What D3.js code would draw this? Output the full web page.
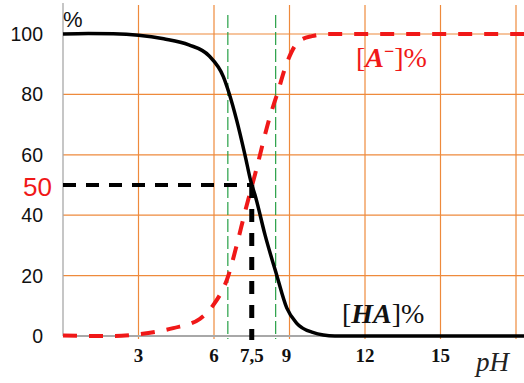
<!DOCTYPE html>
<html>
<head>
<meta charset="utf-8">
<script src="https://cdn.jsdelivr.net/npm/d3@7"></script>
<style>
  body { margin: 0; background: #fff; }
  svg { display: block; }
</style>
</head>
<body>
<div id="chart"></div>
<script>
// values
const yTicks = [0, 20, 40, 60, 80, 100];
const gridPH = [3, 6, 9, 12, 15, 18];
const xTickValues = [3, 6, 7.5, 9, 12, 15];
const xTickLabels = ["3", "6", "7,5", "9", "12", "15"];
const pKa = 7.5;
const halfValue = 50;
const zoneLimits = [6.55, 8.45];

const haPH = [0, 1, 2, 3, 4, 5, 5.8, 6.37, 6.6, 6.9, 7.23, 7.47, 7.63, 8.03, 8.49, 8.89, 9.28, 9.89, 10.8, 12, 15, 18.4];
const haValue = [100, 100.2, 100.1, 99.6, 98.4, 96.4, 92.8, 85.9, 80.4, 71.5, 60, 51, 46.7, 33.4, 20.2, 9.3, 4.3, 1.3, 0, 0, 0, 0];

const aPH = [0, 1, 2, 3, 4.38, 5.44, 5.97, 6.57, 6.9, 7.23, 7.5, 7.63, 8.22, 8.52, 8.89, 9.36, 9.89, 10.56, 12, 15, 18.4];
const aValue = [0.2, 0, 0, 0.6, 2.6, 5.7, 10.2, 20, 30, 41, 49.5, 53.5, 72.6, 80.4, 90.3, 97.5, 99.3, 100, 100, 100, 100];

const width = 524, height = 383;
const orange = "#ee8a3c";
const red = "#f01818";

const x = d3.scaleLinear().domain([0, 18]).range([63, 516]);
const y = d3.scaleLinear().domain([0, 100]).range([336, 34]);

const svg = d3.select("#chart").append("svg")
    .attr("width", width)
    .attr("height", height);

// orange grid
svg.append("g").selectAll("line")
    .data(yTicks.filter(d => d > 0))
    .join("line")
    .attr("x1", x(0)).attr("x2", width)
    .attr("y1", d => y(d)).attr("y2", d => y(d))
    .attr("stroke", orange).attr("stroke-width", 1.2);

svg.append("g").selectAll("line")
    .data(gridPH)
    .join("line")
    .attr("x1", d => x(d)).attr("x2", d => x(d))
    .attr("y1", 5).attr("y2", y(0) + 3)
    .attr("stroke", orange).attr("stroke-width", 1.2);

// green dashed limits
svg.append("g").selectAll("line")
    .data(zoneLimits)
    .join("line")
    .attr("x1", d => x(d)).attr("x2", d => x(d))
    .attr("y1", 15).attr("y2", y(0) + 3)
    .attr("stroke", "#27a046").attr("stroke-width", 1.2)
    .attr("stroke-dasharray", "13,4");

// grey axes
svg.append("line")
    .attr("x1", x(0)).attr("x2", x(0))
    .attr("y1", 3).attr("y2", y(0))
    .attr("stroke", "#a8a8a8").attr("stroke-width", 1.3);
svg.append("line")
    .attr("x1", x(0)).attr("x2", width)
    .attr("y1", y(0)).attr("y2", y(0))
    .attr("stroke", "#a8a8a8").attr("stroke-width", 2);

const line = d3.line()
    .x(d => x(d[0]))
    .y(d => y(d[1]))
    .curve(d3.curveMonotoneX);

// [A-] red dashed
svg.append("path")
    .datum(d3.zip(aPH, aValue))
    .attr("d", line)
    .attr("fill", "none")
    .attr("stroke", red).attr("stroke-width", 4)
    .attr("stroke-dasharray", "14,12");

// [HA] black
svg.append("path")
    .datum(d3.zip(haPH, haValue))
    .attr("d", line)
    .attr("fill", "none")
    .attr("stroke", "#000").attr("stroke-width", 3.5);

// half-equivalence dashed lines
svg.append("line")
    .attr("x1", x(0)).attr("x2", x(pKa))
    .attr("y1", y(halfValue)).attr("y2", y(halfValue))
    .attr("stroke", "#000").attr("stroke-width", 4)
    .attr("stroke-dasharray", "13,10");
svg.append("line")
    .attr("x1", x(pKa)).attr("x2", x(pKa))
    .attr("y1", y(halfValue)).attr("y2", y(0) + 4)
    .attr("stroke", "#000").attr("stroke-width", 5)
    .attr("stroke-dasharray", "13,11");

// y labels
svg.append("g").selectAll("text")
    .data(yTicks)
    .join("text")
    .attr("x", 43)
    .attr("y", d => y(d))
    .attr("dy", "0.36em")
    .attr("text-anchor", "end")
    .style("font", "19.5px 'Liberation Sans', Arial, sans-serif")
    .attr("fill", "#111")
    .text(d => d);

svg.append("text")
    .attr("x", 52).attr("y", y(halfValue) + 11)
    .attr("text-anchor", "end")
    .style("font", "26px 'Liberation Sans', Arial, sans-serif")
    .attr("fill", red)
    .text(halfValue);

svg.append("text")
    .attr("x", x(0)).attr("y", 27)
    .style("font", "22px 'Liberation Sans', Arial, sans-serif")
    .attr("fill", "#111")
    .text("%");

// x labels
svg.append("g").selectAll("text")
    .data(xTickValues)
    .join("text")
    .attr("x", (d, i) => x(d) + (d === 9 ? -3 : 0))
    .attr("y", 362)
    .attr("text-anchor", "middle")
    .style("font", "bold 19px 'Liberation Serif', 'Times New Roman', serif")
    .attr("fill", "#111")
    .text((d, i) => xTickLabels[i]);

svg.append("text")
    .attr("x", 476).attr("y", 371)
    .style("font", "italic 27px 'Liberation Serif', 'Times New Roman', serif")
    .attr("fill", "#222")
    .text("pH");

// curve labels
const aLabel = svg.append("text")
    .attr("x", 356).attr("y", 67)
    .style("font", "28px 'Liberation Serif', 'Times New Roman', serif")
    .attr("fill", red);
aLabel.append("tspan").text("[");
aLabel.append("tspan").style("font-weight", "bold").style("font-style", "italic").text("A");
aLabel.append("tspan").attr("dy", -10).style("font-size", "18px").style("font-weight", "bold").text("\u2212");
aLabel.append("tspan").attr("dy", 10).text("]%");

const haLabel = svg.append("text")
    .attr("x", 342).attr("y", 323)
    .style("font", "28px 'Liberation Serif', 'Times New Roman', serif")
    .attr("fill", "#111");
haLabel.append("tspan").text("[");
haLabel.append("tspan").style("font-weight", "bold").style("font-style", "italic").text("HA");
haLabel.append("tspan").text("]%");
</script>
</body>
</html>
